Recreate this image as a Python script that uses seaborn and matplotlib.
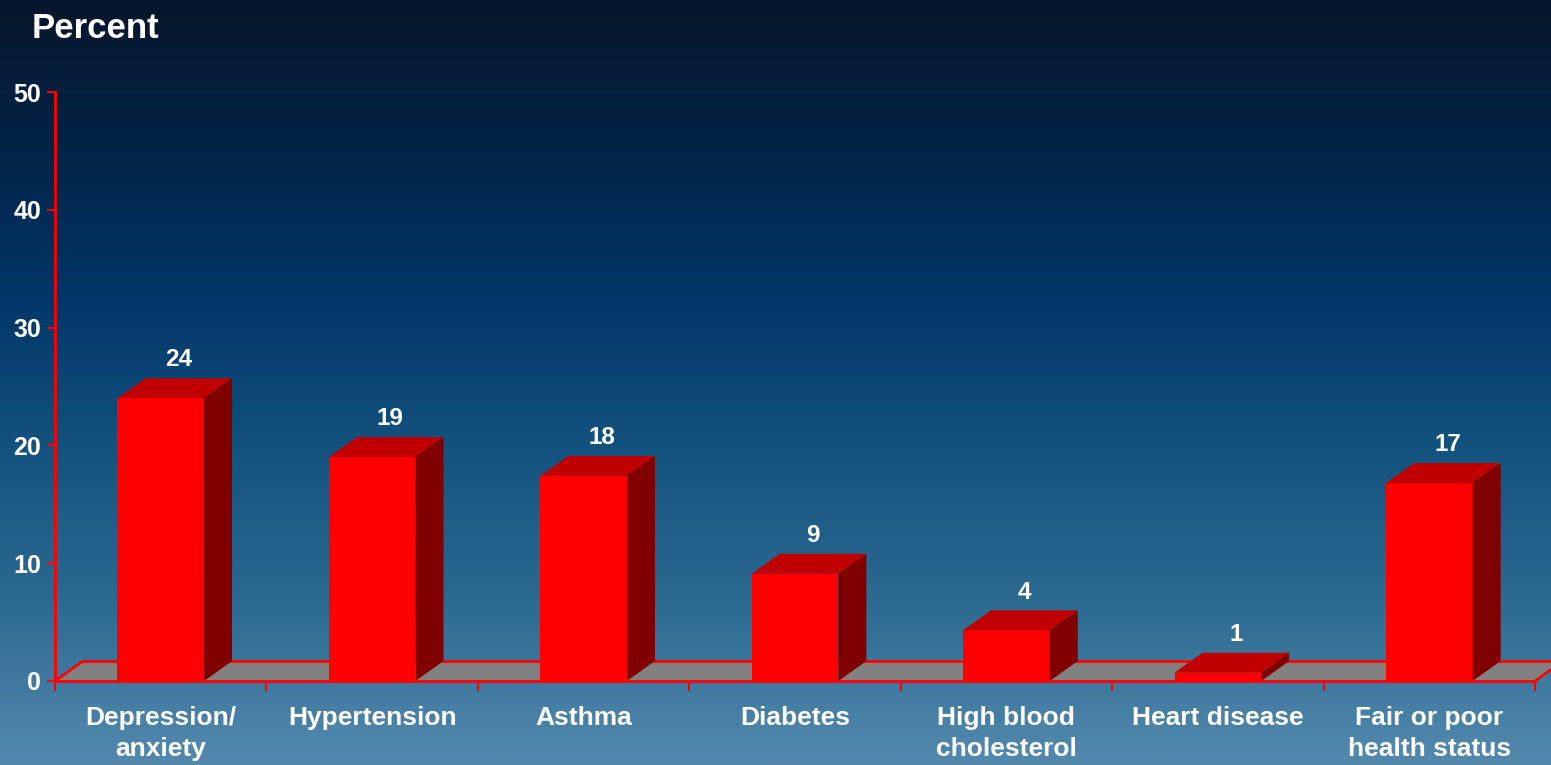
import numpy as np
import matplotlib
matplotlib.use("Agg")
import matplotlib.pyplot as plt
from matplotlib.colors import LinearSegmentedColormap
from matplotlib.patches import Polygon
import seaborn as sns

categories = ["Depression/\nanxiety", "Hypertension", "Asthma", "Diabetes",
              "High blood\ncholesterol", "Heart disease", "Fair or poor\nhealth status"]
values = [24.0, 19.0, 17.4, 9.1, 4.3, 0.7, 16.8]
value_labels = ["24", "19", "18", "9", "4", "1", "17"]
y_ticks = [0, 10, 20, 30, 40, 50]

sns.set_theme(style="white")
plt.rcParams['font.family'] = ['Liberation Sans', 'DejaVu Sans']
plt.rcParams['font.weight'] = 'bold'

W, H = 1551, 765
fig = plt.figure(figsize=(W / 100, H / 100), dpi=100)

# gradient background
bg = fig.add_axes([0, 0, 1, 1], zorder=0)
cmap = LinearSegmentedColormap.from_list(
    "bgc", [(0.0, "#07162b"), (0.2, "#022448"), (0.4, "#03386a"),
            (0.6, "#155480"), (0.8, "#2f6c93"), (1.0, "#5489ae")])
grad = np.linspace(0, 1, 256).reshape(-1, 1)
bg.imshow(grad, aspect="auto", cmap=cmap, extent=[0, 1, 0, 1], origin="upper")
bg.set_axis_off()

# main axes: x=-0.5..6.5 -> px 55..1535, y=0..50 -> px 681..92
x0p, x1p, y0p, y1p = 55, 1535, 681, 92
ax = fig.add_axes([x0p / W, (H - y0p) / H, (x1p - x0p) / W, (y0p - y1p) / H], zorder=1)
ax.patch.set_alpha(0)

sns.barplot(x=categories, y=values, color="#ff0000", saturation=1, width=0.41,
            ax=ax, zorder=3, edgecolor="none")
ax.set_xlim(-0.5, 6.5)
ax.set_ylim(0, 50)

px_x = (x1p - x0p) / 7.0
px_y = (y0p - y1p) / 50.0
dx = 28 / px_x
dy = 20 / px_y

# floor
floor = Polygon([(-0.5, 0), (6.5, 0), (6.5 + dx, dy), (-0.5 + dx, dy)],
                closed=True, facecolor="#808080", edgecolor="none",
                clip_on=False, zorder=1)
ax.add_patch(floor)
ax.plot([-0.5 + dx, 6.5 + dx], [dy, dy], color="#ff0000", lw=2, clip_on=False, zorder=2)
ax.plot([-0.5, -0.5 + dx], [0, dy], color="#ff0000", lw=2, clip_on=False, zorder=2)
ax.plot([6.5, 6.5 + dx], [0, dy], color="#ff0000", lw=2, clip_on=False, zorder=2)

# 3D faces for bars
for p, lab in zip(ax.patches[:len(values)], value_labels):
    bx, bw, bh = p.get_x(), p.get_width(), p.get_height()
    top = Polygon([(bx, bh), (bx + bw, bh), (bx + bw + dx, bh + dy), (bx + dx, bh + dy)],
                  closed=True, facecolor="#c00000", edgecolor="none", clip_on=False, zorder=4)
    side = Polygon([(bx + bw, 0), (bx + bw + dx, dy), (bx + bw + dx, bh + dy), (bx + bw, bh)],
                   closed=True, facecolor="#800000", edgecolor="none", clip_on=False, zorder=4)
    ax.add_patch(top)
    ax.add_patch(side)
    ax.text(bx + bw / 2 + dx * 0.65, bh + dy + 1.0, lab, ha="center", va="baseline",
            color="white", fontsize=17.5, fontweight="bold", zorder=5)

# spines and ticks
for s in ["top", "right"]:
    ax.spines[s].set_visible(False)
for s in ["left", "bottom"]:
    ax.spines[s].set_color("#ff0000")
    ax.spines[s].set_linewidth(2)
    ax.spines[s].set_zorder(6)

ax.set_yticks(y_ticks)
ax.set_yticklabels([str(v) for v in y_ticks])
ax.tick_params(axis="y", colors="#ff0000", length=6, width=1.5, pad=4, direction="out",
               labelcolor="white", labelsize=18, left=True)
for t in ax.get_yticklabels():
    t.set_fontweight("bold")

ax.set_xticks(np.arange(-0.5, 7.0, 1.0))
ax.set_xticklabels([""] * 8)
ax.set_xticks(np.arange(len(categories)), minor=True)
ax.set_xticklabels(categories, minor=True)
ax.tick_params(axis="x", which="major", colors="#ff0000", length=7, width=1.5,
               direction="out", bottom=True)
ax.tick_params(axis="x", which="minor", length=0, pad=18, labelcolor="white",
               labelsize=19, bottom=True)
for t in ax.get_xticklabels(minor=True):
    t.set_fontweight("bold")
    t.set_linespacing(1.35)
    t.set_verticalalignment("top")
ax.set_xlabel("")
ax.set_ylabel("")
ax.grid(False)

fig.text(32 / W, 1 - 38 / H, "Percent", ha="left", va="baseline", color="white",
         fontsize=25, fontweight="bold")

fig.savefig("out.png", dpi=100)
